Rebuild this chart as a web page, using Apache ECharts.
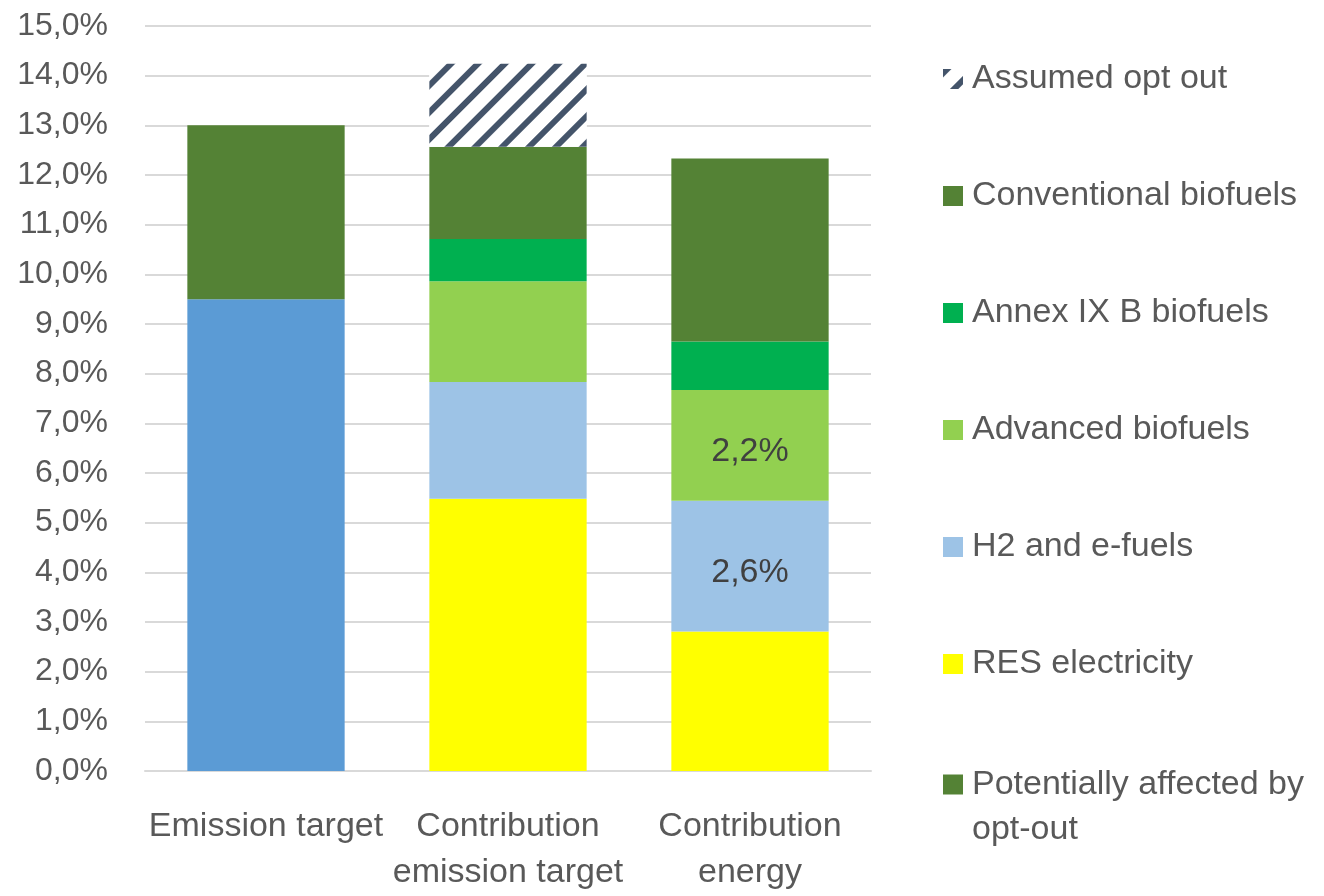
<!DOCTYPE html>
<html>
<head>
<meta charset="utf-8">
<script src="https://cdn.jsdelivr.net/npm/echarts@6/dist/echarts.min.js"></script>
<style>
  html, body { margin: 0; padding: 0; background: #fff; }
  #chart { width: 1324px; height: 896px; }
</style>
</head>
<body>
<div id="chart"></div>
<script>
// categories and tick labels
const categories = ['Emission target', 'Contribution\nemission target', 'Contribution\nenergy']
const yTicks = { min: 0, max: 15, interval: 1 }

// series values (% share)
const emissionBase = [9.5, null, null]
const resElectricity = [null, 5.48, 2.81]
const h2Efuels = [null, 2.35, 2.63]
const advancedBio = [null, 2.03, 2.23]
const annexBio = [null, 0.85, 0.98]
const conventionalBio = [null, 1.86, 3.68]
const affectedOptOut = [3.5, null, null]
const assumedOptOut = [null, 1.67, null]

// which data points carry a value label
const labelled = { 'H2 and e-fuels': [2], 'Advanced biofuels': [2] }

const FONT = 'Liberation Sans'
const TXT = '#595959'

const fmt = (v) => v.toFixed(1).replace('.', ',') + '%'

const bar = (name, data, color, extra) => {
  const idx = labelled[name] || []
  return Object.assign({
    name,
    type: 'bar',
    stack: 'total',
    barWidth: '65%',
    itemStyle: { color },
    data: data.map((v, i) => idx.includes(i)
      ? {
          value: v,
          label: {
            show: true,
            position: 'inside',
            offset: [0, 6],
            formatter: (p) => fmt(p.value),
            fontFamily: FONT,
            fontSize: 34,
            color: '#404040'
          }
        }
      : v)
  }, extra || {})
}

const chart = echarts.init(document.getElementById('chart'))

chart.setOption({
  backgroundColor: '#fff',
  animation: false,
  grid: { left: 145, right: 453, top: 26, bottom: 117, containLabel: false },
  xAxis: {
    type: 'category',
    data: categories,
    axisLine: { lineStyle: { color: '#d9d9d9', width: 2 } },
    axisTick: { show: false },
    axisLabel: {
      fontFamily: FONT,
      fontSize: 34,
      color: TXT,
      lineHeight: 46,
      margin: 33,
      interval: 0
    }
  },
  yAxis: {
    type: 'value',
    min: yTicks.min,
    max: yTicks.max,
    interval: yTicks.interval,
    axisLine: { show: false },
    axisTick: { show: false },
    splitLine: { lineStyle: { color: '#d9d9d9', width: 2 } },
    axisLabel: {
      fontFamily: FONT,
      fontSize: 32,
      color: TXT,
      margin: 37,
      formatter: fmt
    }
  },
  legend: [
    {
      orient: 'vertical',
      left: 938,
      top: 54,
      itemWidth: 20,
      itemHeight: 20,
      itemGap: 77,
      icon: 'rect',
      textStyle: { fontFamily: FONT, fontSize: 34, color: TXT, lineHeight: 40, padding: [0, 0, 0, 4] },
      data: ['Assumed opt out', 'Conventional biofuels', 'Annex IX B biofuels',
        'Advanced biofuels', 'H2 and e-fuels', 'RES electricity']
    },
    {
      orient: 'vertical',
      left: 938,
      top: 712,
      itemWidth: 20,
      itemHeight: 20,
      icon: 'rect',
      formatter: () => '\nPotentially affected by\nopt-out',
      textStyle: { fontFamily: FONT, fontSize: 34, color: TXT, lineHeight: 45, padding: [0, 0, 0, 4] },
      data: ['Potentially affected by opt-out']
    }
  ],
  series: [
    bar('Emission target base', emissionBase, '#5B9BD5'),
    bar('RES electricity', resElectricity, '#FFFF00'),
    bar('H2 and e-fuels', h2Efuels, '#9DC3E6'),
    bar('Advanced biofuels', advancedBio, '#92D050'),
    bar('Annex IX B biofuels', annexBio, '#00B050'),
    bar('Conventional biofuels', conventionalBio, '#548235'),
    bar('Potentially affected by opt-out', affectedOptOut, '#548235'),
    bar('Assumed opt out', assumedOptOut, '#ffffff', {
      itemStyle: {
        color: '#ffffff',
        decal: {
          symbol: 'rect',
          symbolSize: 1,
          color: '#44546A',
          backgroundColor: '#ffffff',
          dashArrayX: [1, 0],
          dashArrayY: [6, 13],
          rotation: -Math.PI / 4
        }
      }
    })
  ]
})

window.addEventListener('resize', () => chart.resize())
</script>
</body>
</html>
